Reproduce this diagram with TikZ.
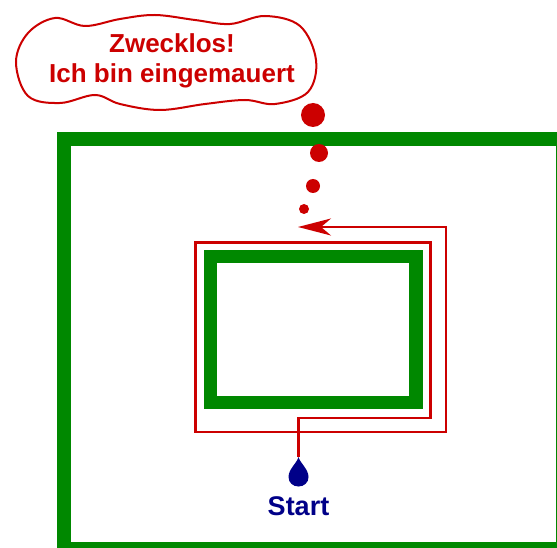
\documentclass[tikz,border=0pt]{standalone}
\usepackage{fontspec}
\setmainfont{Liberation Sans}
\usepackage{tikz}
\usetikzlibrary{arrows.meta}

\definecolor{wallgreen}{RGB}{0,136,0}
\definecolor{antred}{RGB}{204,0,0}
\definecolor{startblue}{RGB}{0,0,136}

\tikzset{
  wall/.style={draw=wallgreen, line width=13.3pt, line join=miter},
  route/.style={draw=antred, line width=2.2pt, line join=miter},
  bubble/.style={draw=antred, line width=2pt, fill=white},
  saytext/.style={text=antred, font=\fontsize{26}{30}\selectfont\bfseries, inner sep=0pt, anchor=base},
}

\begin{document}
\begin{tikzpicture}[x=1pt, y=-1pt]
        \useasboundingbox (0,0) rectangle (557,548);
        \clip (0,0) rectangle (557,548);

        % walls
        \draw[wall] (64,139) rectangle (562.5,548.5);
        \draw[wall] (210.7,256.7) rectangle (416,402.3);

        % thought bubble
        \draw[bubble] plot[smooth cycle, tension=0.6] coordinates {
            (16,62) (28,33) (55,18) (85,26) (120,19) (155,15) (195,20)
            (230,24) (265,16) (300,26) (316,60) (308,92) (275,104)
            (245,100) (205,104) (160,110) (120,104) (95,95) (60,103) (28,96)};
        \node[saytext] (msg1) at (172,53) {Zwecklos!};
        \node[saytext] (msg2) at (172,83) {Ich bin eingemauert};

        % dots up to the bubble
        \fill[antred] (313,115) circle (12pt);
        \fill[antred] (319,153) circle (9pt);
        \fill[antred] (313,186) circle (7pt);
        \fill[antred] (304,209) circle (5pt);

        % the way round the inner wall
        \coordinate (start) at (298.5,457);
        \coordinate (goal) at (298,227);
        \draw[route, -{Stealth[length=33pt, width=17pt, inset=10pt]}]
            (start) -- (298.5,418) -- (430.5,418) -- (430.5,242.5) -- (195.5,242.5)
            -- (195.5,432) -- (446,432) -- (446,227) -- (goal);

        % start drop
        \fill[startblue] (start) .. controls (300,463) and (308.5,469) .. (308.5,477)
            .. controls (308.5,482.5) and (304.2,486.5) .. (298.5,486.5)
            .. controls (292.8,486.5) and (288.5,482.5) .. (288.5,477)
            .. controls (288.5,469) and (297,463) .. cycle;
        \node[text=startblue, font=\fontsize{27}{30}\selectfont\bfseries, inner sep=0pt, anchor=base] (startlabel) at (298.5,515) {Start};
    \end{tikzpicture}
\end{document}
